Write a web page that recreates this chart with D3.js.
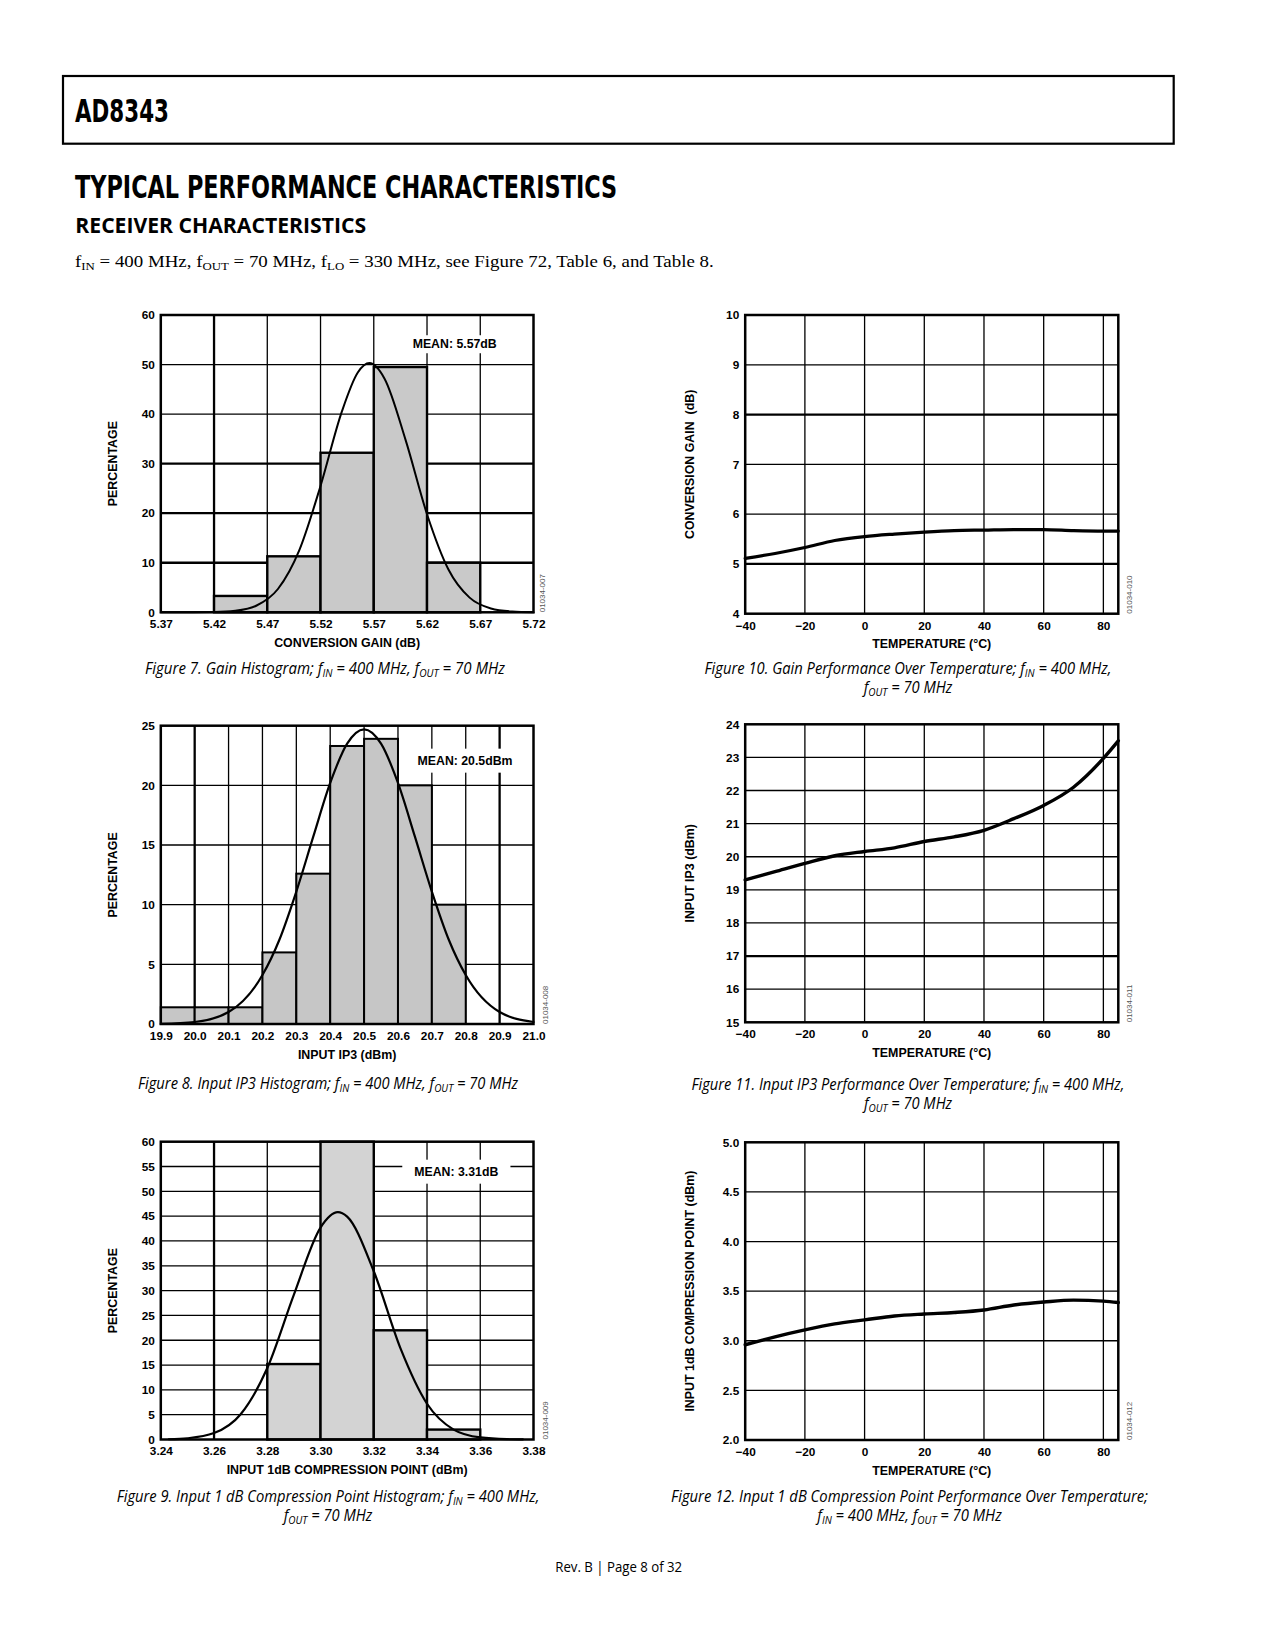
<!DOCTYPE html>
<html><head><meta charset="utf-8">
<script src="https://cdn.jsdelivr.net/npm/d3@7"></script>
<style>body{margin:0;background:#fff}svg{display:block}</style>
</head><body>
<svg id="page" width="1275" height="1650"></svg>
<script>
// ---------------- DATA ----------------
// Figure 7: gain histogram
const gainBinEdges = [5.37, 5.42, 5.47, 5.52, 5.57, 5.62, 5.67, 5.72];
const gainPct      = [0, 3.3, 11.3, 32.2, 49.5, 10.0, 0];
const gainFitX = [5.37, 5.40, 5.42, 5.44, 5.46, 5.48, 5.50, 5.52, 5.54, 5.555, 5.566, 5.58, 5.60, 5.62, 5.64, 5.66, 5.68, 5.70, 5.72];
const gainFitY = [0, 0.01, 0.05, 0.31, 1.37, 4.7, 12.5, 25.5, 40.5, 48.4, 50.3, 47.2, 34.7, 19.8, 8.7, 2.96, 0.78, 0.16, 0.02];
const gainTicksX = [5.37, 5.42, 5.47, 5.52, 5.57, 5.62, 5.67, 5.72];
const gainTicksY = [0, 10, 20, 30, 40, 50, 60];

// Figure 8: input IP3 histogram
const ip3BinEdges = [19.9, 20.0, 20.1, 20.2, 20.3, 20.4, 20.5, 20.6, 20.7, 20.8];
const ip3Pct      = [1.4, 1.4, 1.4, 6.0, 12.6, 23.3, 23.9, 20.0, 10.0];
const ip3FitX = [19.9, 20.0, 20.1, 20.2, 20.25, 20.3, 20.35, 20.4, 20.45, 20.5, 20.55, 20.6, 20.65, 20.7, 20.75, 20.8, 20.9, 21.0];
const ip3FitY = [0.02, 0.17, 1.0, 4.1, 7.06, 11.1, 15.7, 20.2, 23.5, 24.7, 23.5, 20.2, 15.7, 11.1, 7.06, 4.1, 1.0, 0.17];
const ip3TicksX = [19.9, 20.0, 20.1, 20.2, 20.3, 20.4, 20.5, 20.6, 20.7, 20.8, 20.9, 21.0];
const ip3TicksY = [0, 5, 10, 15, 20, 25];

// Figure 9: input 1dB compression point histogram
const p1dbBinEdges = [3.24, 3.26, 3.28, 3.30, 3.32, 3.34, 3.36, 3.38];
const p1dbPct      = [0, 0, 15.2, 60.0, 22.0, 2.0, 0];
const p1dbFitX = [3.243, 3.25, 3.26, 3.27, 3.28, 3.29, 3.30, 3.3065, 3.31, 3.32, 3.33, 3.34, 3.35, 3.36, 3.37, 3.376];
const p1dbFitY = [0.05, 0.24, 1.29, 5.1, 14.4, 29.2, 42.7, 45.8, 44.9, 33.9, 18.4, 7.2, 2.0, 0.41, 0.06, 0.02];
const p1dbTicksX = [3.24, 3.26, 3.28, 3.30, 3.32, 3.34, 3.36, 3.38];
const p1dbTicksY = [0, 5, 10, 15, 20, 25, 30, 35, 40, 45, 50, 55, 60];

// Figures 10-12: performance over temperature
const tempC       = [-40, -30, -20, -10, 0, 10, 20, 30, 40, 50, 60, 70, 80, 85];
const gainVsTemp  = [5.11, 5.21, 5.33, 5.47, 5.55, 5.60, 5.64, 5.67, 5.68, 5.69, 5.69, 5.67, 5.66, 5.66];
const ip3VsTemp   = [19.3, 19.55, 19.8, 20.03, 20.16, 20.27, 20.46, 20.6, 20.8, 21.15, 21.55, 22.1, 22.97, 23.5];
const p1dbVsTemp  = [2.96, 3.04, 3.11, 3.17, 3.21, 3.25, 3.27, 3.285, 3.31, 3.36, 3.39, 3.41, 3.40, 3.385];
const tempTicks   = [-40, -20, 0, 20, 40, 60, 80];
const gainTempTicksY = [4, 5, 6, 7, 8, 9, 10];
const ip3TempTicksY  = [15, 16, 17, 18, 19, 20, 21, 22, 23, 24];
const p1dbTempTicksY = [2.0, 2.5, 3.0, 3.5, 4.0, 4.5, 5.0];

// ---------------- DRAWING ----------------
const svg = d3.select("#page");
const SANS = "'Liberation Sans', Arial, Helvetica, sans-serif";
const CAP = "'Open Sans', 'Noto Sans', sans-serif";

function addRich(t, str, subDy) {
  const parts = str.split(/(\{[^}]*\})/).filter(s => s.length);
  let pending = 0;
  parts.forEach(p => {
    if (p[0] === "{") {
      t.append("tspan").attr("font-size", "68%").attr("dy", subDy + pending).text(p.slice(1, -1));
      pending = -subDy;
    } else {
      const ts = t.append("tspan").text(p);
      if (pending) ts.attr("dy", pending);
      pending = 0;
    }
  });
}

// Text block whose first line is horizontally fitted to a measured width
function fittedText(lines, opts) {
  const g = svg.append("g");
  const texts = lines.map(ln => {
    const t = g.append("text")
      .attr("font-family", opts.family).attr("font-size", opts.size)
      .attr("font-weight", opts.weight || "normal").attr("font-style", opts.style || "normal")
      .attr("text-anchor", opts.anchor || "start").attr("fill", "#000");
    addRich(t, ln, opts.subDy || 3);
    return t;
  });
  const w0 = texts[0].node().getComputedTextLength();
  const sx = opts.width / w0;
  texts.forEach((t, i) => t.attr("transform",
    `translate(${opts.x},${opts.y + i * (opts.gap || 0)}) scale(${sx},1)`));
}

// Header
svg.append("rect").attr("x", 63).attr("y", 76).attr("width", 1110.7).attr("height", 67.7)
  .attr("fill", "none").attr("stroke", "#000").attr("stroke-width", 2.2);
fittedText(["AD8343"], {family: "'Liberation Sans Narrow','DejaVu Sans Condensed',sans-serif", size: 32, weight: "bold", x: 75, y: 122.3, width: 94});
fittedText(["TYPICAL PERFORMANCE CHARACTERISTICS"], {family: "'Liberation Sans Narrow','DejaVu Sans Condensed',sans-serif", size: 32.6, weight: "bold", x: 75, y: 197.7, width: 542});
fittedText(["RECEIVER CHARACTERISTICS"], {family: CAP, size: 21, weight: "bold", x: 75.3, y: 232.7, width: 291});
fittedText(["f{IN} = 400 MHz, f{OUT} = 70 MHz, f{LO} = 330 MHz, see Figure 72, Table 6, and Table 8."],
  {family: "'Liberation Serif', 'Times New Roman', serif", size: 16.6, x: 75, y: 266.7, width: 639, subDy: 3});
fittedText(["Rev. B | Page 8 of 32"], {family: CAP, size: 14.8, x: 618.7, y: 1572.3, width: 127, anchor: "middle"});

function chart(c) {
  const g = svg.append("g");
  const x = d3.scaleLinear().domain(c.xDomain).range([c.L, c.R]);
  const y = d3.scaleLinear().domain(c.yDomain).range([c.B, c.T]);

  // grid
  const gx = c.xTicks.filter(v => v > c.xDomain[0] + 1e-9 && v < c.xDomain[1] - 1e-9);
  const gy = c.yTicks.filter(v => v > c.yDomain[0] + 1e-9 && v < c.yDomain[1] - 1e-9);
  const isIn = (arr, v) => (arr || []).some(a => Math.abs(a - v) < 1e-9);
  g.append("g").selectAll("line").data(gx).join("line")
    .attr("x1", d => x(d)).attr("x2", d => x(d)).attr("y1", c.T).attr("y2", c.B)
    .attr("stroke", "#000").attr("stroke-width", d => isIn(c.thickX, d) ? 2.3 : 1.3);
  g.append("g").selectAll("line").data(gy).join("line")
    .attr("y1", d => y(d)).attr("y2", d => y(d)).attr("x1", c.L).attr("x2", c.R)
    .attr("stroke", "#000").attr("stroke-width", d => isIn(c.thickY, d) ? 2.3 : 1.3);

  // bars
  if (c.pct) {
    const bins = c.pct.map((v, i) => ({x0: c.edges[i], x1: c.edges[i + 1], v})).filter(b => b.v > 0);
    g.append("g").selectAll("rect").data(bins).join("rect")
      .attr("x", d => x(d.x0)).attr("width", d => x(d.x1) - x(d.x0))
      .attr("y", d => y(d.v)).attr("height", d => y(0) - y(d.v))
      .attr("fill", c.barFill).attr("stroke", "#000").attr("stroke-width", c.barStroke);
  }

  // curve
  const line = d3.line().x(d => x(d[0])).y(d => y(d[1])).curve(d3.curveMonotoneX);
  g.append("path").datum(d3.zip(c.lineX, c.lineY)).attr("d", line)
    .attr("fill", "none").attr("stroke", "#000").attr("stroke-width", c.lineWidth)
    .attr("stroke-linejoin", "round").attr("stroke-linecap", "round");

  // mean label
  if (c.mean) {
    const mg = g.append("g");
    const r = mg.append("rect").attr("fill", "#fff");
    const t = mg.append("text").attr("x", x(c.mean.x)).attr("y", y(c.mean.y))
      .attr("text-anchor", "middle").attr("dominant-baseline", "central")
      .attr("font-family", SANS).attr("font-weight", "bold").attr("font-size", 12.3).text(c.mean.text);
    const bb = t.node().getBBox();
    r.attr("x", bb.x - c.mean.padX).attr("width", bb.width + 2 * c.mean.padX)
     .attr("y", bb.y - c.mean.padY).attr("height", bb.height + 2 * c.mean.padY);
  }

  // frame
  g.append("rect").attr("x", c.L).attr("y", c.T).attr("width", c.R - c.L).attr("height", c.B - c.T)
    .attr("fill", "none").attr("stroke", "#000").attr("stroke-width", 2.5);

  // axes (labels only)
  const styleAxis = s => {
    s.select(".domain").remove();
    s.selectAll("text").attr("font-family", SANS).attr("font-weight", "bold")
      .attr("font-size", 11.8).attr("fill", "#000");
  };
  g.append("g").attr("transform", `translate(0,${c.B})`)
    .call(d3.axisBottom(x).tickValues(c.xTicks).tickSize(0).tickPadding(7.6).tickFormat(c.xFmt))
    .call(styleAxis);
  g.append("g").attr("transform", `translate(${c.L},0)`)
    .call(d3.axisLeft(y).tickValues(c.yTicks).tickSize(0).tickPadding(6).tickFormat(c.yFmt))
    .call(styleAxis);

  // titles
  g.append("text").attr("x", (c.L + c.R) / 2).attr("y", c.B + 34.5).attr("text-anchor", "middle")
    .attr("font-family", SANS).attr("font-weight", "bold").attr("font-size", 12.4).text(c.xTitle);
  g.append("text").attr("transform", `translate(${c.L - c.yTitleOff},${(c.T + c.B) / 2}) rotate(-90)`)
    .attr("text-anchor", "middle").attr("dominant-baseline", "central")
    .attr("font-family", SANS).attr("font-weight", "bold").attr("font-size", 12.4)
    .style("white-space", "pre").text(c.yTitle);

  // figure code
  g.append("text").attr("transform", `translate(${c.codeX},${c.B}) rotate(-90)`)
    .attr("dominant-baseline", "central").attr("font-family", SANS).attr("font-size", 8)
    .attr("fill", "#555").text(c.code);

  // caption
  fittedText(c.caption, {family: CAP, size: 15.4, style: "italic", anchor: "middle",
    x: c.capX, y: c.capY, gap: 18.8, width: c.capW, subDy: 3});
}

const fmt2 = d3.format(".2f"), fmt1 = d3.format(".1f"), fmt0 = d3.format("d");

chart({L: 160.8, R: 533.5, T: 315, B: 612.3, xDomain: [5.37, 5.72], yDomain: [0, 60],
  xTicks: gainTicksX, yTicks: gainTicksY, xFmt: fmt2, yFmt: fmt0,
  edges: gainBinEdges, pct: gainPct, barFill: "#c9c9c9", barStroke: 2.4,
  lineX: gainFitX, lineY: gainFitY, lineWidth: 2,
  thickX: [5.42], thickY: [10, 20, 30],
  mean: {text: "MEAN: 5.57dB", x: 5.646, y: 54.1, padX: 8, padY: 2},
  xTitle: "CONVERSION GAIN (dB)", yTitle: "PERCENTAGE", yTitleOff: 47.8,
  code: "01034-007", codeX: 542,
  caption: ["Figure 7. Gain Histogram; f{IN} = 400 MHz, f{OUT} = 70 MHz"], capX: 325, capY: 674, capW: 360});

chart({L: 160.8, R: 533.5, T: 725.7, B: 1024, xDomain: [19.9, 21.0], yDomain: [0, 25],
  xTicks: ip3TicksX, yTicks: ip3TicksY, xFmt: fmt1, yFmt: fmt0,
  edges: ip3BinEdges, pct: ip3Pct, barFill: "#c6c6c6", barStroke: 2,
  lineX: ip3FitX, lineY: ip3FitY, lineWidth: 2.2,
  thickX: [20.0, 20.9], thickY: [],
  mean: {text: "MEAN: 20.5dBm", x: 20.798, y: 22.07, padX: 6, padY: 5},
  xTitle: "INPUT IP3 (dBm)", yTitle: "PERCENTAGE", yTitleOff: 47.8,
  code: "01034-008", codeX: 545.5,
  caption: ["Figure 8. Input IP3 Histogram; f{IN} = 400 MHz, f{OUT} = 70 MHz"], capX: 328, capY: 1089, capW: 380});

chart({L: 160.8, R: 533.5, T: 1141.7, B: 1439.5, xDomain: [3.24, 3.38], yDomain: [0, 60],
  xTicks: p1dbTicksX, yTicks: p1dbTicksY, xFmt: fmt2, yFmt: fmt0,
  edges: p1dbBinEdges, pct: p1dbPct, barFill: "#d3d3d3", barStroke: 2.4,
  lineX: p1dbFitX, lineY: p1dbFitY, lineWidth: 2.2,
  thickX: [3.26], thickY: [],
  mean: {text: "MEAN: 3.31dB", x: 3.351, y: 53.96, padX: 12, padY: 5},
  xTitle: "INPUT 1dB COMPRESSION POINT (dBm)", yTitle: "PERCENTAGE", yTitleOff: 47.8,
  code: "01034-009", codeX: 545,
  caption: ["Figure 9. Input 1 dB Compression Point Histogram; f{IN} = 400 MHz,", "f{OUT} = 70 MHz"],
  capX: 328, capY: 1501.7, capW: 423});

chart({L: 745.2, R: 1118.3, T: 315, B: 613.7, xDomain: [-40, 85], yDomain: [4, 10],
  xTicks: tempTicks, yTicks: gainTempTicksY, xFmt: fmt0, yFmt: fmt0,
  lineX: tempC, lineY: gainVsTemp, lineWidth: 3.2,
  thickX: [], thickY: [5, 8],
  xTitle: "TEMPERATURE (°C)", yTitle: "CONVERSION GAIN  (dB)", yTitleOff: 55.2,
  code: "01034-010", codeX: 1129,
  caption: ["Figure 10. Gain Performance Over Temperature; f{IN} = 400 MHz,", "f{OUT} = 70 MHz"],
  capX: 908, capY: 674, capW: 407});

chart({L: 745.2, R: 1118.3, T: 724.3, B: 1022.3, xDomain: [-40, 85], yDomain: [15, 24],
  xTicks: tempTicks, yTicks: ip3TempTicksY, xFmt: fmt0, yFmt: fmt0,
  lineX: tempC, lineY: ip3VsTemp, lineWidth: 3.4,
  thickX: [], thickY: [17],
  xTitle: "TEMPERATURE (°C)", yTitle: "INPUT IP3 (dBm)", yTitleOff: 55.2,
  code: "01034-011", codeX: 1129,
  caption: ["Figure 11. Input IP3 Performance Over Temperature; f{IN} = 400 MHz,", "f{OUT} = 70 MHz"],
  capX: 908, capY: 1090, capW: 433});

chart({L: 745.2, R: 1118.3, T: 1142.3, B: 1440, xDomain: [-40, 85], yDomain: [2, 5],
  xTicks: tempTicks, yTicks: p1dbTempTicksY, xFmt: fmt0, yFmt: fmt1,
  lineX: tempC, lineY: p1dbVsTemp, lineWidth: 3.4,
  thickX: [], thickY: [],
  xTitle: "TEMPERATURE (°C)", yTitle: "INPUT 1dB COMPRESSION POINT (dBm)", yTitleOff: 55.2,
  code: "01034-012", codeX: 1129,
  caption: ["Figure 12. Input 1 dB Compression Point Performance Over Temperature;", "f{IN} = 400 MHz, f{OUT} = 70 MHz"],
  capX: 909.5, capY: 1501.7, capW: 477});
</script>
</body></html>
